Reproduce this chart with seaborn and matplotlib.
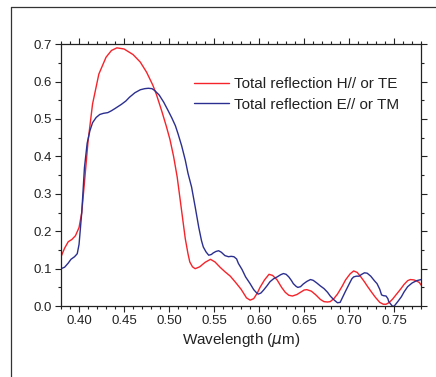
import seaborn as sns
import pandas as pd
import matplotlib.pyplot as plt
from matplotlib.lines import Line2D
from matplotlib.ticker import MultipleLocator

# values
te_wl = [0.380, 0.384, 0.388, 0.392, 0.396, 0.400, 0.403, 0.406, 0.410, 0.415, 0.422,
         0.430, 0.436, 0.442, 0.450, 0.460, 0.468, 0.475, 0.482, 0.486, 0.492, 0.497,
         0.501, 0.505, 0.509, 0.512, 0.515, 0.518, 0.521, 0.523, 0.526, 0.529, 0.534,
         0.540, 0.546, 0.551, 0.557, 0.562, 0.568, 0.574, 0.580, 0.586, 0.590, 0.594,
         0.598, 0.601, 0.606, 0.611, 0.615, 0.620, 0.625, 0.629, 0.633, 0.637, 0.642,
         0.646, 0.650, 0.653, 0.658, 0.663, 0.668, 0.672, 0.676, 0.679, 0.683, 0.687,
         0.692, 0.696, 0.701, 0.705, 0.709, 0.713, 0.717, 0.720, 0.725, 0.729, 0.734,
         0.738, 0.741, 0.744, 0.748, 0.752, 0.757, 0.761, 0.765, 0.768, 0.772, 0.775,
         0.778, 0.780]
te_r = [0.132, 0.155, 0.172, 0.178, 0.188, 0.210, 0.250, 0.330, 0.440, 0.540, 0.620,
        0.665, 0.683, 0.690, 0.687, 0.672, 0.652, 0.625, 0.590, 0.565, 0.520, 0.480,
        0.445, 0.400, 0.345, 0.290, 0.235, 0.180, 0.140, 0.118, 0.105, 0.100, 0.105,
        0.117, 0.125, 0.118, 0.103, 0.092, 0.080, 0.063, 0.045, 0.022, 0.016, 0.020,
        0.035, 0.050, 0.070, 0.085, 0.082, 0.070, 0.050, 0.037, 0.029, 0.027, 0.031,
        0.037, 0.043, 0.044, 0.040, 0.030, 0.018, 0.012, 0.011, 0.012, 0.020, 0.032,
        0.052, 0.070, 0.086, 0.094, 0.090, 0.078, 0.065, 0.054, 0.037, 0.024, 0.010,
        0.005, 0.005, 0.009, 0.018, 0.030, 0.045, 0.058, 0.068, 0.071, 0.070, 0.067,
        0.063, 0.056]

tm_wl = [0.380, 0.384, 0.388, 0.391, 0.395, 0.398, 0.400, 0.403, 0.406, 0.409, 0.412,
         0.415, 0.419, 0.423, 0.427, 0.432, 0.436, 0.440, 0.447, 0.452, 0.456, 0.462,
         0.468, 0.473, 0.477, 0.481, 0.484, 0.489, 0.494, 0.499, 0.503, 0.507, 0.510,
         0.514, 0.518, 0.521, 0.525, 0.529, 0.533, 0.536, 0.538, 0.541, 0.544, 0.547,
         0.549, 0.552, 0.555, 0.558, 0.562, 0.566, 0.569, 0.572, 0.575, 0.577, 0.581,
         0.585, 0.590, 0.594, 0.597, 0.599, 0.602, 0.605, 0.609, 0.612, 0.616, 0.620,
         0.624, 0.627, 0.630, 0.633, 0.636, 0.638, 0.641, 0.643, 0.646, 0.649, 0.653,
         0.657, 0.660, 0.664, 0.668, 0.672, 0.676, 0.679, 0.683, 0.687, 0.690, 0.692,
         0.696, 0.700, 0.703, 0.705, 0.708, 0.711, 0.714, 0.717, 0.720, 0.724, 0.728,
         0.731, 0.734, 0.736, 0.738, 0.741, 0.743, 0.744, 0.746, 0.748, 0.750, 0.754,
         0.758, 0.761, 0.765, 0.770, 0.775, 0.780]
tm_r = [0.100, 0.104, 0.115, 0.125, 0.132, 0.140, 0.165, 0.250, 0.370, 0.435, 0.468,
        0.490, 0.504, 0.512, 0.515, 0.517, 0.522, 0.528, 0.539, 0.548, 0.558, 0.570,
        0.578, 0.581, 0.582, 0.581, 0.576, 0.564, 0.545, 0.522, 0.503, 0.482, 0.460,
        0.428, 0.390, 0.355, 0.318, 0.265, 0.210, 0.175, 0.158, 0.145, 0.136, 0.138,
        0.142, 0.146, 0.148, 0.144, 0.135, 0.132, 0.133, 0.132, 0.126, 0.114, 0.098,
        0.078, 0.060, 0.044, 0.036, 0.032, 0.035, 0.043, 0.055, 0.065, 0.073, 0.078,
        0.084, 0.087, 0.085, 0.078, 0.068, 0.060, 0.053, 0.050, 0.052, 0.059, 0.066,
        0.071, 0.069, 0.062, 0.054, 0.047, 0.037, 0.027, 0.017, 0.009, 0.010, 0.020,
        0.040, 0.059, 0.073, 0.078, 0.080, 0.080, 0.085, 0.089, 0.088, 0.080, 0.068,
        0.060, 0.045, 0.030, 0.028, 0.027, 0.020, 0.012, 0.006, 0.000, 0.000, 0.012,
        0.025, 0.038, 0.052, 0.062, 0.068, 0.071]

te_label = "Total reflection H// or TE"
tm_label = "Total reflection E// or TM"
red = "#f5232a"
blue = "#2b2f8f"

sns.set_style("ticks")
plt.rcParams["font.family"] = ["Liberation Sans", "DejaVu Sans"]

fig = plt.figure(figsize=(4.36, 3.77), dpi=100)
ax = fig.add_axes([0.140, 0.188, 0.826, 0.695])

te = pd.DataFrame({"wl": te_wl, "r": te_r})
tm = pd.DataFrame({"wl": tm_wl, "r": tm_r})
sns.lineplot(data=te, x="wl", y="r", ax=ax, color=red, lw=1.0, sort=False, label=te_label)
sns.lineplot(data=tm, x="wl", y="r", ax=ax, color=blue, lw=1.0, sort=False, label=tm_label)

ax.set_xlim(0.38, 0.78)
ax.set_ylim(0.0, 0.7)
ax.xaxis.set_minor_locator(MultipleLocator(0.01))
ax.yaxis.set_minor_locator(MultipleLocator(0.05))
ax.set_xticks([0.40, 0.45, 0.50, 0.55, 0.60, 0.65, 0.70, 0.75])
ax.set_xticklabels(["0.40", "0.45", "0.50", "0.55", "0.60", "0.65", "0.70", "0.75"])
ax.set_yticks([0.0, 0.1, 0.2, 0.3, 0.4, 0.5, 0.6, 0.7])
ax.set_yticklabels(["0.0", "0.1", "0.2", "0.3", "0.4", "0.5", "0.6", "0.7"])
ax.tick_params(which="both", direction="out", top=True, right=True, width=0.8,
               colors="#222222", labelsize=9.5, pad=2)
ax.tick_params(which="major", length=4.5)
ax.tick_params(which="minor", length=2.5)
for s in ax.spines.values():
    s.set_linewidth(0.9)
    s.set_color("#222222")

ax.set_xlabel("Wavelength ($\\mu$m)", fontsize=11, color="#222222", labelpad=3)
ax.set_ylabel("")
leg = ax.legend(loc="upper right", bbox_to_anchor=(0.955, 0.897), frameon=False,
                fontsize=11, handlelength=2.3, handletextpad=0.3, labelspacing=0.42,
                borderaxespad=0)
for t in leg.get_texts():
    t.set_color("#222222")

# outer frame of the figure panel
fig.add_artist(Line2D([11 / 436, 11 / 436], [0, 1 - 7 / 377], color="#333333", lw=0.9))
fig.add_artist(Line2D([11 / 436, 1], [1 - 7 / 377, 1 - 7 / 377], color="#333333", lw=0.9))

fig.savefig("out.png", dpi=100)
